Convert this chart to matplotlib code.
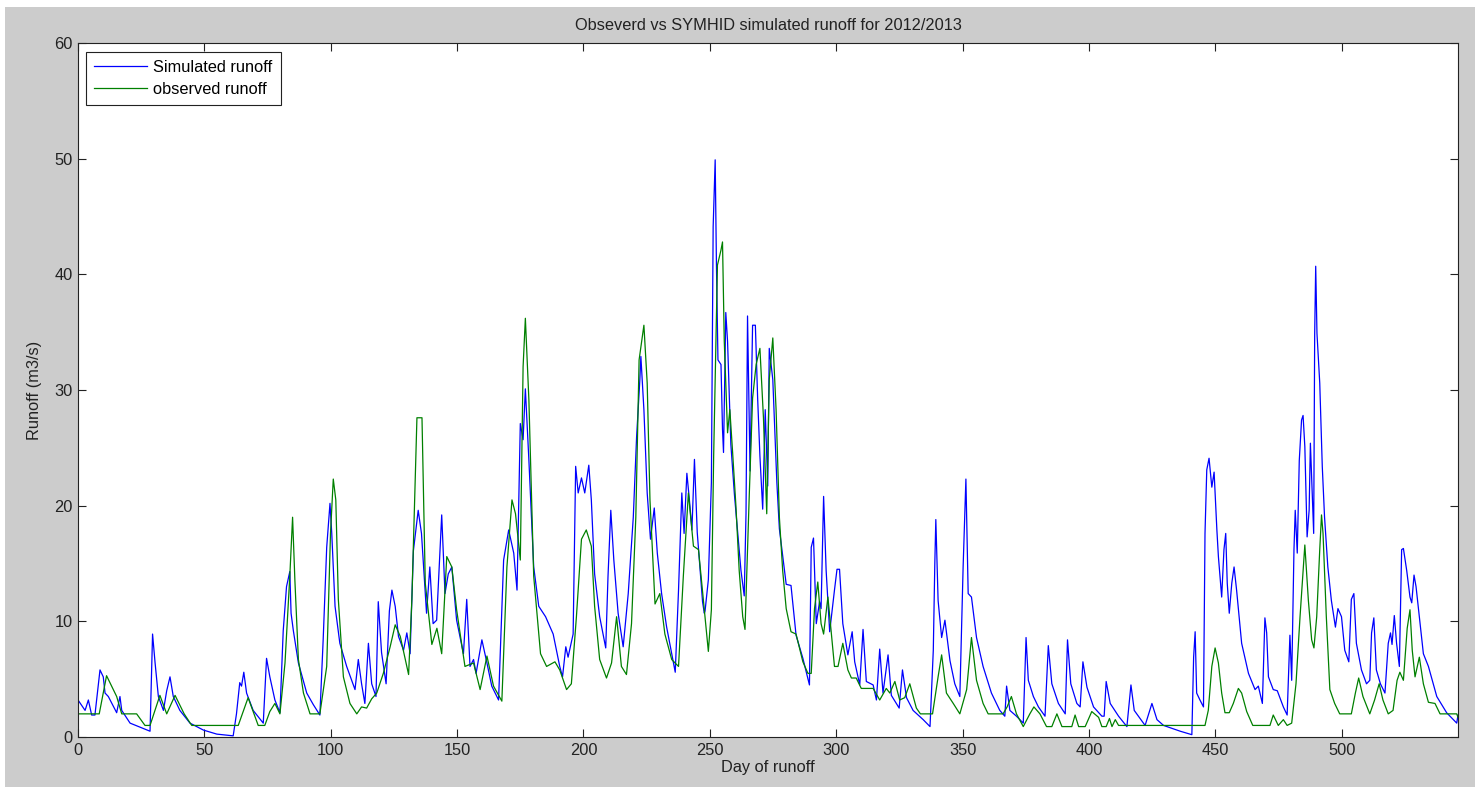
"""Observed vs SYMHID simulated runoff, 2012/2013 (MATLAB-style figure)."""

import matplotlib

matplotlib.use("Agg")
import matplotlib.patches as mpatches
import matplotlib.pyplot as plt

# values (day, runoff m3/s)
sim_day = [
    0, 2.8, 4.1, 5.4, 6.7, 8.7, 10.0, 10.7, 12, 15.3, 16.6, 17.3, 20.6, 28.5, 29.5, 30.5,
    31.8, 33.8, 35.1, 36.4, 37.7, 40.3, 44.3, 49.6, 54.9, 61.4, 62.7, 64, 64.7, 65.6, 66.7,
    69.3, 73.3, 74.6, 75.9, 77.9, 79.9, 81.2, 82.5, 83.8, 84.3, 85.2, 87.2, 90.5, 93.1,
    95.7, 97.0, 98.4, 99.7, 100.4, 101.7, 103.6, 106.3, 109.6, 110.9, 112.2, 113.5, 114.9,
    116.2, 117.9, 118.8, 120.1, 121.9, 123.2, 124.2, 125.5, 126.8, 128.8, 130.1, 131.4,
    132.7, 134.6, 135.9, 137.9, 139.2, 140.5, 141.9, 143.9, 145.2, 146.5, 147.9, 149.8,
    152.5, 153.8, 155.1, 156.5, 157.5, 159.8, 161.8, 163.7, 166.4, 168.4, 170.4, 172.4,
    173.7, 175.0, 176.1, 177.0, 178.4, 180.3, 182.3, 185.0, 188.0, 190.6, 191.7, 193.0,
    193.9, 195.9, 196.9, 197.9, 199.2, 200.5, 202.1, 203.1, 204.4, 206.4, 208.8, 209.7,
    210.8, 212.0, 213.7, 215.7, 217.7, 219.7, 221.0, 222.3, 222.7, 223.9, 225.2, 226.5,
    228.0, 229.2, 230.9, 232.9, 234.9, 236.3, 237.6, 238.9, 239.8, 240.9, 241.9, 242.9,
    243.9, 245.0, 247.1, 247.8, 248.1, 249.4, 250.6, 251.3, 252.1, 252.6, 253.2, 254.4,
    255.0, 255.4, 256.3, 257.0, 258.3, 259.7, 261.0, 262.3, 263.6, 264.3, 264.9, 265.9,
    266.9, 268.0, 268.9, 269.8, 270.9, 271.9, 272.9, 273.5, 274.9, 276.5, 277.5, 278.8,
    280.2, 282.1, 284.1, 286.8, 289.4, 290.1, 291.0, 292.1, 293.4, 294.0, 295.0, 296.0,
    297.4, 299.3, 300.3, 301.3, 302.6, 304.6, 306.3, 307.3, 309.3, 310.6, 311.9, 314.6,
    315.9, 317.2, 318.5, 320.5, 321.8, 324.9, 326.2, 327.8, 330.4, 334.4, 337.1, 338.4,
    339.0, 339.4, 340.3, 341.7, 343.0, 345.0, 346.9, 348.9, 350.2, 351.3, 352.2, 353.5,
    355.5, 358.1, 361.4, 364.7, 366.7, 367.4, 368.7, 371.3, 374.0, 375.1, 376.0, 378.0,
    380.0, 382.6, 383.9, 385.3, 387.9, 390.6, 391.5, 392.8, 395.2, 396.5, 397.6, 399.2,
    401.8, 405.1, 406.0, 406.8, 408.4, 411.7, 415.0, 416.6, 417.9, 422.2, 424.9, 426.9,
    429.5, 436.1, 440.7, 441.4, 442.0, 442.6, 443.9, 445.3, 445.9, 446.6, 447.5, 448.6,
    449.5, 450.6, 451.2, 452.5, 453.4, 454.1, 454.7, 455.5, 456.5, 457.4, 458.4, 460.4,
    463.1, 465.7, 467.0, 468.6, 469.6, 470.3, 471.0, 472.9, 474.5, 476.9, 478.4, 479.5,
    480.2, 481.1, 481.6, 482.4, 483.2, 484.1, 484.7, 485.4, 486.3, 487.1, 487.6, 488.4,
    488.9, 489.3, 489.7, 490.2, 491.3, 492.3, 493.2, 494.5, 495.9, 497.5, 498.5, 499.9,
    501.2, 502.8, 503.8, 504.8, 505.8, 507.8, 509.8, 511.1, 511.8, 512.7, 513.7, 515.3,
    517.1, 518.4, 519.3, 519.9, 520.8, 521.7, 522.8, 523.7, 524.4, 525.7, 527.0, 527.7,
    528.6, 529.4, 531.0, 532.3, 534.3, 537.6, 541.5, 544.2, 545.5, 546.0,
]
sim_val = [
    3.2, 2.3, 3.2, 1.9, 1.9, 5.8, 5.2, 3.8, 3.5, 2.1, 3.5, 2.3, 1.2, 0.5, 8.9, 6.4,
    3.5, 2.3, 4.0, 5.2, 3.5, 2.3, 1.2, 0.6, 0.25, 0.1, 2.0, 4.7, 4.4, 5.6, 3.8,
    2.3, 1.2, 6.8, 5.2, 3.2, 2.1, 9.2, 13.0, 14.3, 10.7, 9.2, 6.4, 3.8, 2.8,
    1.9, 8.4, 16.4, 20.2, 17.6, 11.3, 8.1, 6.1, 4.1, 6.7, 4.6, 2.9, 8.1,
    4.6, 3.5, 11.7, 7.3, 4.6, 10.9, 12.7, 11.3, 8.7, 7.5, 9.0, 7.2,
    16.1, 19.6, 17.6, 10.7, 14.7, 9.8, 10.1, 19.2, 12.4, 14.1, 14.7, 10.1,
    7.2, 11.9, 6.1, 6.7, 5.5, 8.4, 6.4, 4.4, 3.2, 15.3, 17.9, 15.9,
    12.7, 27.1, 25.7, 30.1, 23.9, 14.7, 11.3, 10.4, 8.9, 6.1, 5.2, 7.8,
    6.9, 8.9, 23.4, 21.1, 22.4, 21.1, 23.5, 20.5, 14.1, 10.4, 7.7, 13.9,
    19.6, 15.3, 10.7, 7.8, 12.4, 19.0, 25.9, 30.9, 32.9, 28.3, 21.1, 17.1,
    19.8, 15.9, 12.4, 9.5, 7.2, 5.6, 12.7, 21.1, 17.6, 22.8, 20.5, 17.9,
    24.0, 17.7, 11.7, 10.7, 10.9, 13.6, 22.0, 44.1, 49.9, 40.8, 32.6, 32.2,
    26.6, 24.6, 36.7, 34.2, 25.3, 21.0, 17.7, 14.4, 12.2, 19.3, 36.4, 23.0,
    35.6, 35.6, 29.3, 24.3, 19.7, 28.3, 21.7, 33.6, 30.9, 22.0, 18.0, 15.7,
    13.2, 13.1, 8.8, 6.8, 4.5, 16.4, 17.2, 9.8, 11.7, 11.1, 20.8, 14.4,
    9.1, 12.7, 14.5, 14.5, 9.8, 7.1, 9.1, 6.5, 4.5, 9.3, 4.8, 4.5,
    3.2, 7.6, 3.8, 7.1, 3.6, 2.5, 5.8, 3.4, 2.3, 1.5, 0.9, 7.5,
    15.0, 18.8, 11.8, 8.6, 10.1, 6.6, 4.6, 3.5, 14.7, 22.3, 12.4, 12.1,
    8.6, 6.1, 3.8, 2.3, 1.8, 4.4, 2.3, 1.8, 1.2, 8.6, 4.9, 3.5,
    2.6, 1.8, 7.9, 4.6, 2.9, 2.0, 8.4, 4.6, 2.9, 2.6, 6.5, 4.3,
    2.6, 1.8, 1.8, 4.8, 2.9, 1.8, 0.9, 4.5, 2.3, 1.0, 2.9, 1.5,
    1.0, 0.5, 0.2, 6.9, 9.1, 3.8, 3.2, 2.6, 17.6, 23.1, 24.1, 21.6,
    22.9, 17.9, 15.6, 12.1, 16.2, 17.6, 13.3, 10.7, 13.3, 14.7, 12.7, 8.1,
    5.5, 4.1, 4.4, 2.9, 10.3, 9.0, 5.2, 4.1, 4.0, 2.6, 1.9, 8.8,
    4.9, 16.2, 19.6, 15.9, 23.9, 27.4, 27.8, 25.1, 17.3, 19.6, 25.4, 20.5,
    17.6, 34.9, 40.7, 34.9, 30.6, 23.4, 19.0, 14.7, 11.8, 9.5, 11.1, 10.4,
    7.5, 6.5, 11.9, 12.4, 8.1, 5.8, 4.6, 4.9, 9.0, 10.3, 5.8, 4.6,
    3.8, 8.1, 9.0, 8.0, 10.5, 8.1, 6.1, 16.2, 16.3, 14.4, 12.1, 11.6,
    14.0, 13.0, 9.8, 7.2, 6.1, 3.5, 2.1, 1.5, 1.2, 1.9,
]

obs_day = [
    0, 8.4, 11.3, 15.3, 17.3, 23.2, 26.5, 28.5, 32.4, 35.1, 38.4, 42, 45, 63.4, 67.3,
    71.3, 73.9, 75.9, 77.9, 79.9, 81.9, 83.8, 84.9, 85.8, 87.2, 89.2, 91.8, 95.7, 98.4,
    99.9, 101.0, 102.0, 103.0, 105.0, 107.6, 110.3, 112.2, 114.2, 116.2, 118.2, 120.8,
    123.5, 125.5, 127.5, 129.5, 130.8, 132.1, 134.1, 136.1, 137.4, 140.0, 142.0, 143.9,
    145.9, 147.9, 149.8, 153.1, 156.5, 159.1, 161.8, 164.4, 167.7, 169.7, 171.7, 173.1,
    175.0, 176.1, 177.0, 178.4, 180.3, 183.0, 185.4, 188.7, 190.6, 193.3, 195.2, 197.2,
    199.2, 201.1, 203.1, 204.4, 206.4, 209.1, 211.1, 213.1, 215.0, 217.0, 219.0, 220.7,
    222.0, 223.9, 225.2, 226.3, 228.3, 230.2, 232.2, 234.9, 237.6, 239.5, 241.5, 243.5,
    245.5, 247.4, 249.4, 250.6, 251.5, 253.0, 254.4, 255.0, 255.7, 257.0, 257.9, 259.0,
    260.3, 261.6, 263.0, 263.9, 265.6, 266.9, 268.3, 269.8, 271.2, 272.5, 273.5, 274.9,
    276.2, 277.5, 278.8, 280.2, 282.1, 284.1, 286.8, 288.8, 290.1, 291.4, 292.7, 294.0,
    295.0, 296.7, 298.0, 299.3, 300.7, 302.6, 304.6, 306.0, 307.9, 309.9, 314.6, 317.2,
    319.8, 321.2, 323.2, 325.1, 327.1, 329.1, 331.7, 333.3, 338.1, 340.3, 341.7, 343.6,
    346.3, 348.9, 351.6, 353.5, 355.5, 358.1, 360.1, 366.0, 367.6, 369.3, 371.3, 374.0,
    376.6, 378.2, 380.6, 383.2, 385.3, 387.3, 389.3, 393.2, 394.5, 395.9, 398.5, 401.1,
    403.8, 405.1, 406.8, 408.1, 409.1, 410.4, 411.7, 445.9, 447.2, 448.6, 449.9, 451.2,
    452.5, 453.8, 455.5, 457.1, 459.1, 460.4, 462.4, 464.8, 471.6, 472.9, 474.9, 476.9,
    478.4, 480.2, 481.9, 483.5, 485.4, 486.8, 488.1, 489.0, 490.1, 491.3, 492.0, 492.6,
    493.9, 495.3, 497.2, 499.2, 503.8, 505.4, 506.7, 508.4, 511.1, 513.0, 514.8, 516.3,
    518.4, 520.3, 521.9, 523.0, 524.4, 525.9, 527.0, 527.9, 529.0, 530.7, 532.3, 534.3,
    536.9, 538.9, 545.5, 546.0,
]
obs_val = [
    2.0, 2.0, 5.3, 3.5, 2.0, 2.0, 1.0, 1.0, 3.6, 2.0, 3.6, 2.0, 1.0, 1.0, 3.4,
    1.0, 1.0, 2.2, 2.9, 2.0, 6.4, 13.9, 19.0, 13.6, 6.7, 3.8, 2.0, 2.0, 6.1,
    17.6, 22.3, 20.5, 11.9, 5.2, 2.9, 2.0, 2.6, 2.5, 3.3, 3.8, 5.5,
    7.8, 9.7, 8.7, 6.7, 5.4, 11.9, 27.6, 27.6, 13.3, 8.0, 9.4, 7.2,
    15.6, 14.7, 11.0, 6.1, 6.4, 4.1, 7.0, 4.4, 3.1, 14.7, 20.5, 19.3,
    15.3, 32.0, 36.2, 29.1, 13.9, 7.2, 6.1, 6.5, 5.8, 4.1, 4.6, 10.4,
    17.1, 17.9, 16.5, 11.3, 6.7, 5.1, 6.4, 10.4, 6.1, 5.4, 9.8, 19.0,
    32.6, 35.6, 30.6, 20.5, 11.5, 12.4, 8.9, 6.7, 6.1, 13.9, 21.1, 16.5,
    16.2, 11.9, 7.4, 11.0, 24.3, 40.8, 42.1, 42.8, 34.2, 26.3, 28.3, 24.6,
    20.0, 14.4, 10.4, 9.3, 21.0, 29.3, 32.2, 33.6, 27.6, 19.3, 30.9, 34.5,
    28.3, 19.0, 14.4, 11.1, 9.1, 8.9, 6.5, 5.5, 5.5, 11.1, 13.4, 9.8,
    8.9, 12.1, 9.1, 6.1, 6.1, 8.1, 5.8, 5.1, 5.1, 4.2, 4.2, 3.2,
    4.2, 3.8, 4.8, 3.2, 3.4, 4.6, 2.5, 2.0, 2.0, 5.2, 7.1, 3.8,
    2.9, 2.0, 4.1, 8.6, 4.9, 2.9, 2.0, 2.0, 2.6, 3.5, 2.0, 0.9,
    2.0, 2.6, 2.0, 0.9, 0.9, 2.0, 0.9, 0.9, 1.9, 0.9, 0.9, 2.2,
    1.7, 0.9, 0.9, 1.6, 0.9, 1.5, 1.0, 1.0, 2.3, 6.1, 7.7, 6.4,
    3.8, 2.1, 2.1, 2.9, 4.2, 3.8, 2.2, 1.0, 1.0, 1.9, 1.0, 1.5,
    1.0, 1.2, 4.6, 10.4, 16.6, 11.8, 8.4, 7.7, 10.4, 16.2, 19.2, 17.6,
    10.4, 4.1, 2.9, 2.0, 2.0, 3.8, 5.1, 3.5, 2.0, 3.2, 4.6, 3.2,
    2.0, 2.3, 4.9, 5.6, 4.9, 9.4, 11.0, 7.5, 5.2, 6.9, 4.6, 3.0,
    2.9, 2.0, 2.0, 1.7,
]

x_ticks = [0, 50, 100, 150, 200, 250, 300, 350, 400, 450, 500]
y_ticks = [0, 10, 20, 30, 40, 50, 60]

plt.rcParams["font.family"] = ["Liberation Sans", "DejaVu Sans"]
FS = 11.8

W, H = 1479, 787
fig = plt.figure(figsize=(W / 100, H / 100), dpi=100)
fig.patch.set_facecolor("white")

# MATLAB grey figure background (with a thin white border as in the screenshot)
grey = mpatches.Rectangle(
    (5 / W, 0), (1475 - 5) / W, (H - 7) / H,
    transform=fig.transFigure, facecolor="#cccccc", edgecolor="none", zorder=-10,
)
fig.add_artist(grey)

ax = fig.add_axes([78 / W, (H - 737) / H, (1458 - 78) / W, (737 - 43) / H])
ax.set_facecolor("white")

ax.plot(sim_day, sim_val, color="#0000ff", lw=0.9, label="Simulated runoff")
ax.plot(obs_day, obs_val, color="#008000", lw=0.9, label="observed runoff")

ax.set_xlim(0, 546)
ax.set_ylim(0, 60)
ax.set_xticks(x_ticks)
ax.set_yticks(y_ticks)
ax.tick_params(direction="in", length=6, width=0.8, top=True, right=True,
               labelsize=FS, colors="#222222", pad=4)
for s in ax.spines.values():
    s.set_linewidth(0.8)
    s.set_color("#222222")

ax.set_title("Obseverd vs SYMHID simulated runoff for 2012/2013", fontsize=FS,
             pad=9, color="#222222")
ax.set_xlabel("Day of runoff", fontsize=FS, labelpad=2, color="#222222")
ax.set_ylabel("Runoff (m3/s)", fontsize=FS, labelpad=9, color="#222222")

leg = ax.legend(
    loc="upper left", bbox_to_anchor=(8 / 1380, 1 - 9 / 694), borderaxespad=0,
    fancybox=False, framealpha=1, edgecolor="#222222", fontsize=FS,
    handlelength=3.2, handletextpad=0.4, labelspacing=0.4, borderpad=0.5,
)
leg.get_frame().set_linewidth(0.8)

fig.savefig("out.png", dpi=100, facecolor=fig.get_facecolor())
